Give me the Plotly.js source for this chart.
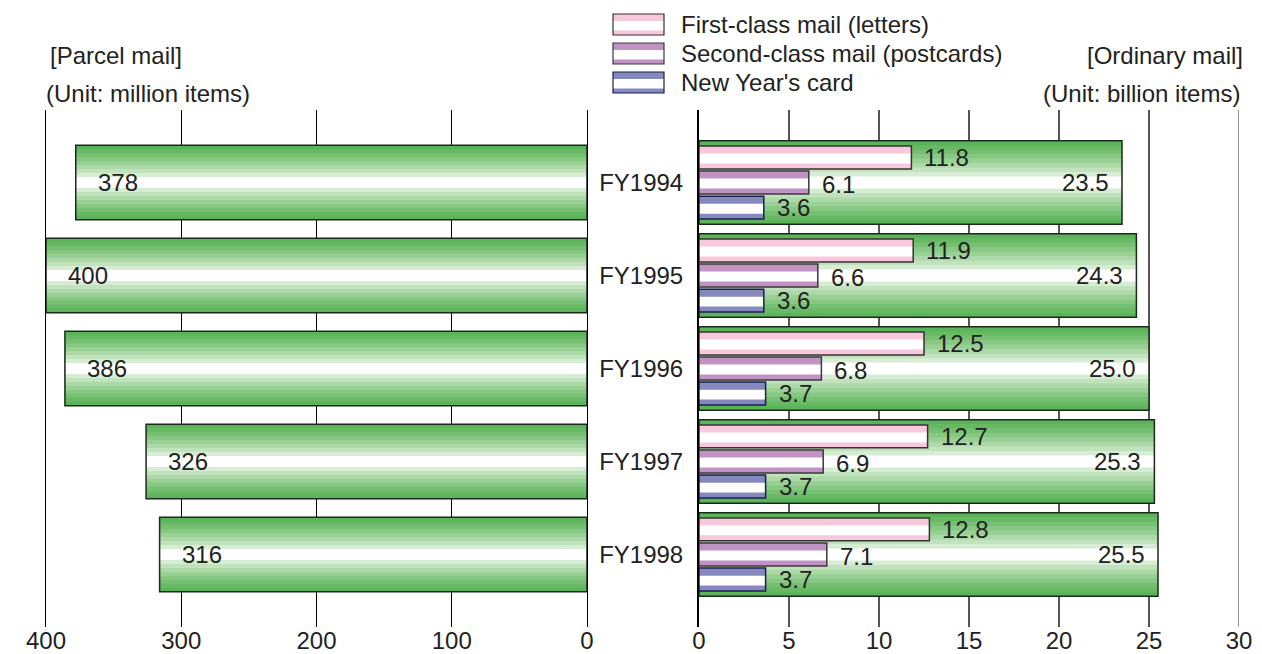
<!DOCTYPE html>
<html>
<head>
<meta charset="utf-8">
<script src="https://cdn.plot.ly/plotly-3.0.1.min.js"></script>
<style>html,body{margin:0;padding:0;background:#fff;}#chart{width:1262px;height:654px;}</style>
</head>
<body>
<div id="chart"></div>
<script>
// ---- data ----
const years = ['FY1994', 'FY1995', 'FY1996', 'FY1997', 'FY1998'];
const parcelMail = [378, 400, 386, 326, 316];          // million items
const ordinaryTotal = [23.5, 24.3, 25.0, 25.3, 25.5];  // billion items
const firstClass = [11.8, 11.9, 12.5, 12.7, 12.8];
const secondClass = [6.1, 6.6, 6.8, 6.9, 7.1];
const newYearCard = [3.6, 3.6, 3.7, 3.7, 3.7];
const parcelTicks = [0, 100, 200, 300, 400];
const ordinaryTicks = [0, 5, 10, 15, 20, 25, 30];
const legendNames = ['First-class mail (letters)', 'Second-class mail (postcards)', "New Year's card"];

// ---- styling ----
const W = 1262, H = 654;
const FONT = '"Liberation Sans", Arial, Helvetica, sans-serif';
const TXT = '#222';
const FS = 24;
const greens = ['#5cb45a', '#67b964', '#76c072', '#87c882', '#99d094', '#acd9a7', '#c0e2bc', '#d6ecd3', '#ffffff'];
const seriesCol = ['#f8c8dc', '#c093c4', '#8689be'];
const seriesLine = ['#333333', '#3a3a3a', '#1b1f4f'];

const px = x => x / W;
const py = y => 1 - y / H;

const traces = [];

function greenBands(xvals, xa, ya, width, centerW) {
  const n = greens.length;
  const t = (width - centerW) / (2 * (n - 1));
  for (let k = 0; k < n; k++) {
    const w = width - 2 * k * t;
    traces.push({
      type: 'bar', orientation: 'h', x: xvals, y: years, xaxis: xa, yaxis: ya,
      width: w, offset: -w / 2,
      marker: {color: greens[k], line: {width: 0}},
      hoverinfo: 'skip', showlegend: false
    });
  }
  traces.push({
    type: 'bar', orientation: 'h', x: xvals, y: years, xaxis: xa, yaxis: ya,
    width: width, offset: -width / 2,
    marker: {color: 'rgba(0,0,0,0)', line: {width: 1.5, color: '#1a2a1a'}},
    hoverinfo: 'skip', showlegend: false
  });
}

greenBands(parcelMail, 'x', 'y', 0.8, 0.12);
greenBands(ordinaryTotal, 'x2', 'y2', 0.9, 0.13);

const smallW = 0.247;
const centers = [-0.27, 0, 0.27];
[firstClass, secondClass, newYearCard].forEach((vals, i) => {
  const top = centers[i] - smallW / 2;
  traces.push({
    type: 'bar', orientation: 'h', x: vals, y: years, xaxis: 'x2', yaxis: 'y2',
    width: smallW, offset: top,
    marker: {color: seriesCol[i], line: {width: 0}},
    hoverinfo: 'skip', showlegend: false
  });
  traces.push({
    type: 'bar', orientation: 'h', x: vals, y: years, xaxis: 'x2', yaxis: 'y2',
    width: 0.107, offset: top + 0.081,
    marker: {color: '#ffffff', line: {width: 0}},
    hoverinfo: 'skip', showlegend: false
  });
  traces.push({
    type: 'bar', orientation: 'h', x: vals, y: years, xaxis: 'x2', yaxis: 'y2',
    width: smallW, offset: top,
    marker: {color: 'rgba(0,0,0,0)', line: {width: 1.5, color: seriesLine[i]}},
    hoverinfo: 'skip', showlegend: false
  });
});

// ---- annotations ----
const ann = [];
const tf = {family: FONT, size: FS, color: TXT};
years.forEach((yr, j) => {
  ann.push({xref: 'x', yref: 'y', x: parcelMail[j], y: yr, text: String(parcelMail[j]),
    xanchor: 'left', yanchor: 'middle', xshift: 20, showarrow: false, font: tf});
  ann.push({xref: 'x2', yref: 'y2', x: ordinaryTotal[j], y: yr, text: ordinaryTotal[j].toFixed(1),
    xanchor: 'right', yanchor: 'middle', xshift: -11, showarrow: false, font: tf});
  const sets = [firstClass, secondClass, newYearCard];
  const ys = [25, -2, -25];
  sets.forEach((s, i) => {
    ann.push({xref: 'x2', yref: 'y2', x: s[j], y: yr, text: s[j].toFixed(1),
      xanchor: 'left', yanchor: 'middle', xshift: 11, yshift: ys[i], showarrow: false, font: tf});
  });
});

// titles
ann.push({xref: 'paper', yref: 'paper', x: px(48), y: py(55), xanchor: 'left', yanchor: 'middle',
  text: '[Parcel mail]', showarrow: false, font: tf});
ann.push({xref: 'paper', yref: 'paper', x: px(44), y: py(93), xanchor: 'left', yanchor: 'middle',
  text: '(Unit: million items)', showarrow: false, font: tf});
ann.push({xref: 'paper', yref: 'paper', x: px(1245), y: py(55), xanchor: 'right', yanchor: 'middle',
  text: '[Ordinary mail]', showarrow: false, font: tf});
ann.push({xref: 'paper', yref: 'paper', x: px(1242), y: py(93), xanchor: 'right', yanchor: 'middle',
  text: '(Unit: billion items)', showarrow: false, font: tf});

// legend (custom, striped boxes)
const shapes = [];
const boxTops = [14, 43, 72];
legendNames.forEach((name, i) => {
  const t0 = boxTops[i], t1 = t0 + 21;
  shapes.push({type: 'rect', xref: 'paper', yref: 'paper', x0: px(613), x1: px(664), y0: py(t0), y1: py(t1),
    fillcolor: seriesCol[i], line: {width: 0}});
  shapes.push({type: 'rect', xref: 'paper', yref: 'paper', x0: px(613), x1: px(664), y0: py(t0 + 7), y1: py(t0 + 16.5),
    fillcolor: '#ffffff', line: {width: 0}});
  shapes.push({type: 'rect', xref: 'paper', yref: 'paper', x0: px(613), x1: px(664), y0: py(t0), y1: py(t1),
    fillcolor: 'rgba(0,0,0,0)', line: {width: 1.2, color: seriesLine[i]}});
  ann.push({xref: 'paper', yref: 'paper', x: px(679), y: py(t0 + 10.5), xanchor: 'left', yanchor: 'middle',
    text: name, showarrow: false, font: tf});
});

// right edge gridline of the ordinary-mail panel (at the last tick)
shapes.push({type: 'line', xref: 'x2', yref: 'paper', layer: 'below',
  x0: ordinaryTicks[ordinaryTicks.length - 1], x1: ordinaryTicks[ordinaryTicks.length - 1],
  y0: py(627), y1: py(110), line: {color: '#555', width: 1.2}});

const yDom = [py(627), py(110)];
const catRange = [4.78, -0.78];

const layout = {
  width: W, height: H,
  margin: {l: 0, r: 0, t: 0, b: 0},
  paper_bgcolor: '#fff', plot_bgcolor: 'rgba(0,0,0,0)',
  barmode: 'overlay',
  showlegend: false,
  font: {family: FONT, size: FS, color: TXT},
  xaxis: {
    domain: [px(46), px(587)], range: [400, 0], anchor: 'y',
    tickmode: 'array', tickvals: parcelTicks, ticktext: parcelTicks.map(String),
    showgrid: true, gridcolor: '#000', gridwidth: 1.2, zeroline: false, showline: false,
    ticks: '', tickfont: tf, ticklabelstandoff: -3, fixedrange: true
  },
  yaxis: {
    domain: yDom, type: 'category', categoryarray: years, range: catRange, anchor: 'x',
    side: 'right', showticklabels: false, showgrid: false, zeroline: false,
    showline: true, mirror: true, linecolor: '#000', linewidth: 1.4, ticks: '', fixedrange: true
  },
  xaxis2: {
    domain: [px(699), px(1239)], range: [0, 30], anchor: 'y2',
    tickmode: 'array', tickvals: ordinaryTicks, ticktext: ordinaryTicks.map(String),
    showgrid: true, gridcolor: '#555', gridwidth: 1.2, zeroline: false, showline: false,
    ticks: '', tickfont: tf, ticklabelstandoff: -3, fixedrange: true
  },
  yaxis2: {
    domain: yDom, type: 'category', categoryarray: years, range: catRange, anchor: 'x2',
    side: 'left', showticklabels: true, tickfont: tf, ticklabelstandoff: 9,
    showgrid: false, zeroline: false, showline: true, linecolor: '#000', linewidth: 2,
    ticks: '', fixedrange: true
  },
  annotations: ann,
  shapes: shapes
};

Plotly.newPlot('chart', traces, layout, {staticPlot: true, displayModeBar: false});
</script>
</body>
</html>
